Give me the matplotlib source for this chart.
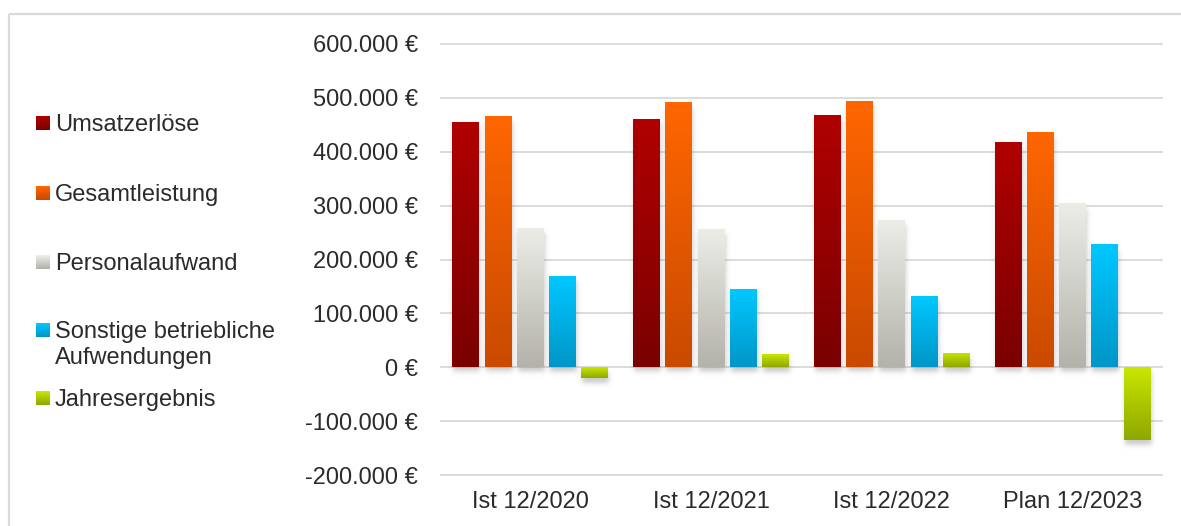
import numpy as np
import matplotlib
matplotlib.use('Agg')
import matplotlib.pyplot as plt
from matplotlib.colors import to_rgb
from matplotlib.ticker import FuncFormatter

plt.rcParams['font.family'] = ['Liberation Sans', 'DejaVu Sans']

# data
categories = ['Ist 12/2020', 'Ist 12/2021', 'Ist 12/2022', 'Plan 12/2023']
series = ['Umsatzerlöse', 'Gesamtleistung', 'Personalaufwand',
          'Sonstige betriebliche\nAufwendungen', 'Jahresergebnis']
umsatz = [455000, 461000, 467000, 417000]
gesamt = [465000, 491000, 494000, 437000]
personal = [259000, 257000, 274000, 304000]
sonstige = [170000, 146000, 133000, 228000]
jahres = [-20000, 24000, 26000, -135000]
values = [umsatz, gesamt, personal, sonstige, jahres]

# gradient colours (top, bottom)
grads = [('#B00000', '#7A0000'),
         ('#FF6600', '#C94A00'),
         ('#EDEDE8', '#B3B3AB'),
         ('#00C8FF', '#0096C8'),
         ('#C8E600', '#8FA800')]

W, H = 1181, 526
fig = plt.figure(figsize=(W / 100, H / 100), dpi=100)
ax = fig.add_axes([440 / W, (H - 476) / H, 723 / W, 433 / H])

txt = '#2b2b2b'
ymin, ymax = -200000, 600000
px_x = 4 / 723.0
px_y = (ymax - ymin) / 433.0


def grad_img(top, bot, n=64):
    t = np.linspace(0, 1, n)[:, None]
    a = np.array(to_rgb(top))
    b = np.array(to_rgb(bot))
    return (a * (1 - t) + b * t)[:, None, :].repeat(2, axis=1)


def smooth_box(u, a, b, w):
    return 0.5 * (np.tanh((u - a) / w) - np.tanh((u - b) / w))


x = np.arange(len(categories))
pitch = 0.1784
bw = 0.149
for i, vals in enumerate(values):
    bars = ax.bar(x + (i - 2) * pitch, vals, bw, color='none', zorder=3)
    top, bot = grads[i]
    img = grad_img(top, bot)
    for p in bars:
        x0, w = p.get_x(), p.get_width()
        y0, h = p.get_y(), p.get_height()
        lo, hi = min(y0, y0 + h), max(y0, y0 + h)
        im = ax.imshow(img, extent=[x0, x0 + w, lo, hi], aspect='auto',
                       zorder=3, interpolation='bilinear')
        im.set_clip_path(p)
        # soft drop shadow
        sx = np.linspace(x0 - 10 * px_x, x0 + w + 10 * px_x, 60)
        sy = np.linspace(lo - 16 * px_y, hi + 6 * px_y, 120)
        ax_ = smooth_box(sx, x0 + 1 * px_x, x0 + w + 1 * px_x, 3.0 * px_x)
        ay_ = smooth_box(sy, lo - 5 * px_y, hi - 5 * px_y, 3.0 * px_y)
        alpha = 0.32 * ay_[:, None] * ax_[None, :]
        rgba = np.zeros((len(sy), len(sx), 4))
        rgba[..., :3] = 0.35
        rgba[..., 3] = alpha
        ax.imshow(rgba, extent=[sx[0], sx[-1], sy[0], sy[-1]], origin='lower',
                  aspect='auto', zorder=2, interpolation='bilinear')

ax.set_xlim(-0.5, 3.5)
ax.set_ylim(ymin - 1200, ymax + 1200)
ax.set_yticks(np.arange(ymin, ymax + 1, 100000))
ax.yaxis.set_major_formatter(FuncFormatter(lambda v, _: f"{v:,.0f}".replace(',', '.') + ' €'))
ax.set_xticks(x)
ax.set_xticklabels(categories)
ax.tick_params(axis='both', length=0, labelsize=17, colors=txt)
ax.tick_params(axis='y', pad=16)
ax.tick_params(axis='x', pad=11)
ax.grid(axis='y', color='#D9D9D9', lw=1.3, zorder=1)
ax.set_axisbelow(True)
for s in ax.spines.values():
    s.set_visible(False)

# overlay for frame and legend (pixel coordinates)
ov = fig.add_axes([0, 0, 1, 1], zorder=5)
ov.set_xlim(0, W)
ov.set_ylim(H, 0)
ov.axis('off')
ov.plot([8.5, W], [13.5, 13.5], color='#D9D9D9', lw=1.6, solid_capstyle='butt')
ov.plot([8.5, 8.5], [13.5, H], color='#D9D9D9', lw=1.6, solid_capstyle='butt')

leg_y = [123, 193, 262, 330, 398]
for i, lab in enumerate(series):
    yc = leg_y[i]
    top, bot = grads[i]
    ov.imshow(grad_img(top, bot, 16), extent=[36, 50, yc + 7, yc - 7],
              aspect='auto', interpolation='bilinear')
    if '\n' in lab:
        ov.text(55, yc - 9, lab, va='top', ha='left', fontsize=17,
                color=txt, linespacing=1.22)
    else:
        ov.text(55, yc + 2, lab, va='center', ha='left', fontsize=17, color=txt)
ov.set_xlim(0, W)
ov.set_ylim(H, 0)

fig.savefig('out.png', dpi=100)
